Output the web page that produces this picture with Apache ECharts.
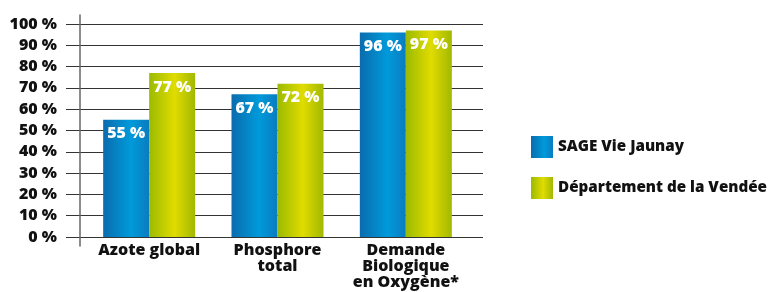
<!DOCTYPE html>
<html>
<head>
<meta charset="utf-8">
<script src="https://cdn.jsdelivr.net/npm/echarts@6/dist/echarts.min.js"></script>
<style>html,body{margin:0;padding:0;background:#fff}#c{width:773px;height:292px}</style>
</head>
<body>
<div id="c"></div>
<script>
var categories = ['Azote global', 'Phosphore\ntotal', 'Demande\nBiologique\nen Oxygène*'];
var seriesNames = ['SAGE Vie Jaunay', 'Département de la Vendée'];
var sageValues = [55, 67, 96];
var vendeeValues = [77, 72, 97];
var yTicks = [0, 10, 20, 30, 40, 50, 60, 70, 80, 90, 100];

var FONT = '"Open Sans", sans-serif';
var W = 800;
function grad(stops) {
  return new echarts.graphic.LinearGradient(0, 0, 1, 0, stops);
}
var blue = grad([{offset:0,color:'#0a6cae'},{offset:0.6,color:'#009ada'},{offset:1,color:'#0a7cc0'}]);
var green = grad([{offset:0,color:'#9bba00'},{offset:0.55,color:'#e0dc00'},{offset:1,color:'#a2b800'}]);

var chart = echarts.init(document.getElementById('c'), null, {renderer:'canvas'});
var label = {
  show: true, position: 'insideTop', distance: 6, color: '#fff',
  fontFamily: FONT, fontWeight: W, fontSize: 16,
  formatter: function (p) { return p.value + ' %'; }
};
chart.setOption({
  animation: false,
  textStyle: {fontFamily: FONT},
  grid: [
    {left: 66, right: 290, top: 24, bottom: 55},
    {left: 85, width: 385, top: 24, bottom: 55},
    {left: 80, width: 10, top: 15, height: 231}
  ],
  legend: {
    orient: 'vertical', left: 531, top: 136, padding: 0, itemWidth: 22, itemHeight: 22, itemGap: 19,
    icon: 'rect',
    textStyle: {fontFamily: FONT, fontWeight: W, fontSize: 15.2, color: '#111'},
    data: seriesNames
  },
  xAxis: [
    {gridIndex: 0, type: 'category', data: [''], show: false},
    {gridIndex: 1, type: 'category', data: categories,
     axisLine: {show: false}, axisTick: {show: false},
     axisLabel: {margin: 5, color: '#111', fontFamily: FONT, fontWeight: W, fontSize: 16, lineHeight: 16, interval: 0}},
    {gridIndex: 2, type: 'value', show: false}
  ],
  yAxis: [
    {gridIndex: 0, type: 'value', min: yTicks[0], max: yTicks[yTicks.length-1], interval: 10,
     axisLine: {show: false}, axisTick: {show: false},
     axisLabel: {margin: 9, color: '#111', fontFamily: FONT, fontWeight: W, fontSize: 16,
                 padding: [0, 0, 2, 0],
                 formatter: function (v) { return v + ' %'; }},
     splitLine: {lineStyle: {color: '#333', width: 1}}},
    {gridIndex: 1, type: 'value', min: 0, max: 100, show: false},
    {gridIndex: 2, type: 'value', min: 0, max: 1, axisLine: {show: true, lineStyle: {color: '#666', width: 1.5}},
     axisTick: {show: false}, axisLabel: {show: false}, splitLine: {show: false}}
  ],
  series: [
    {name: seriesNames[0], type: 'bar', xAxisIndex: 1, yAxisIndex: 1, data: sageValues,
     barWidth: 46, barGap: '0%', itemStyle: {color: blue}, label: label},
    {name: seriesNames[1], type: 'bar', xAxisIndex: 1, yAxisIndex: 1, data: vendeeValues,
     barWidth: 46, barGap: '0%', itemStyle: {color: green}, label: label}
  ]
});
</script>
</body>
</html>
